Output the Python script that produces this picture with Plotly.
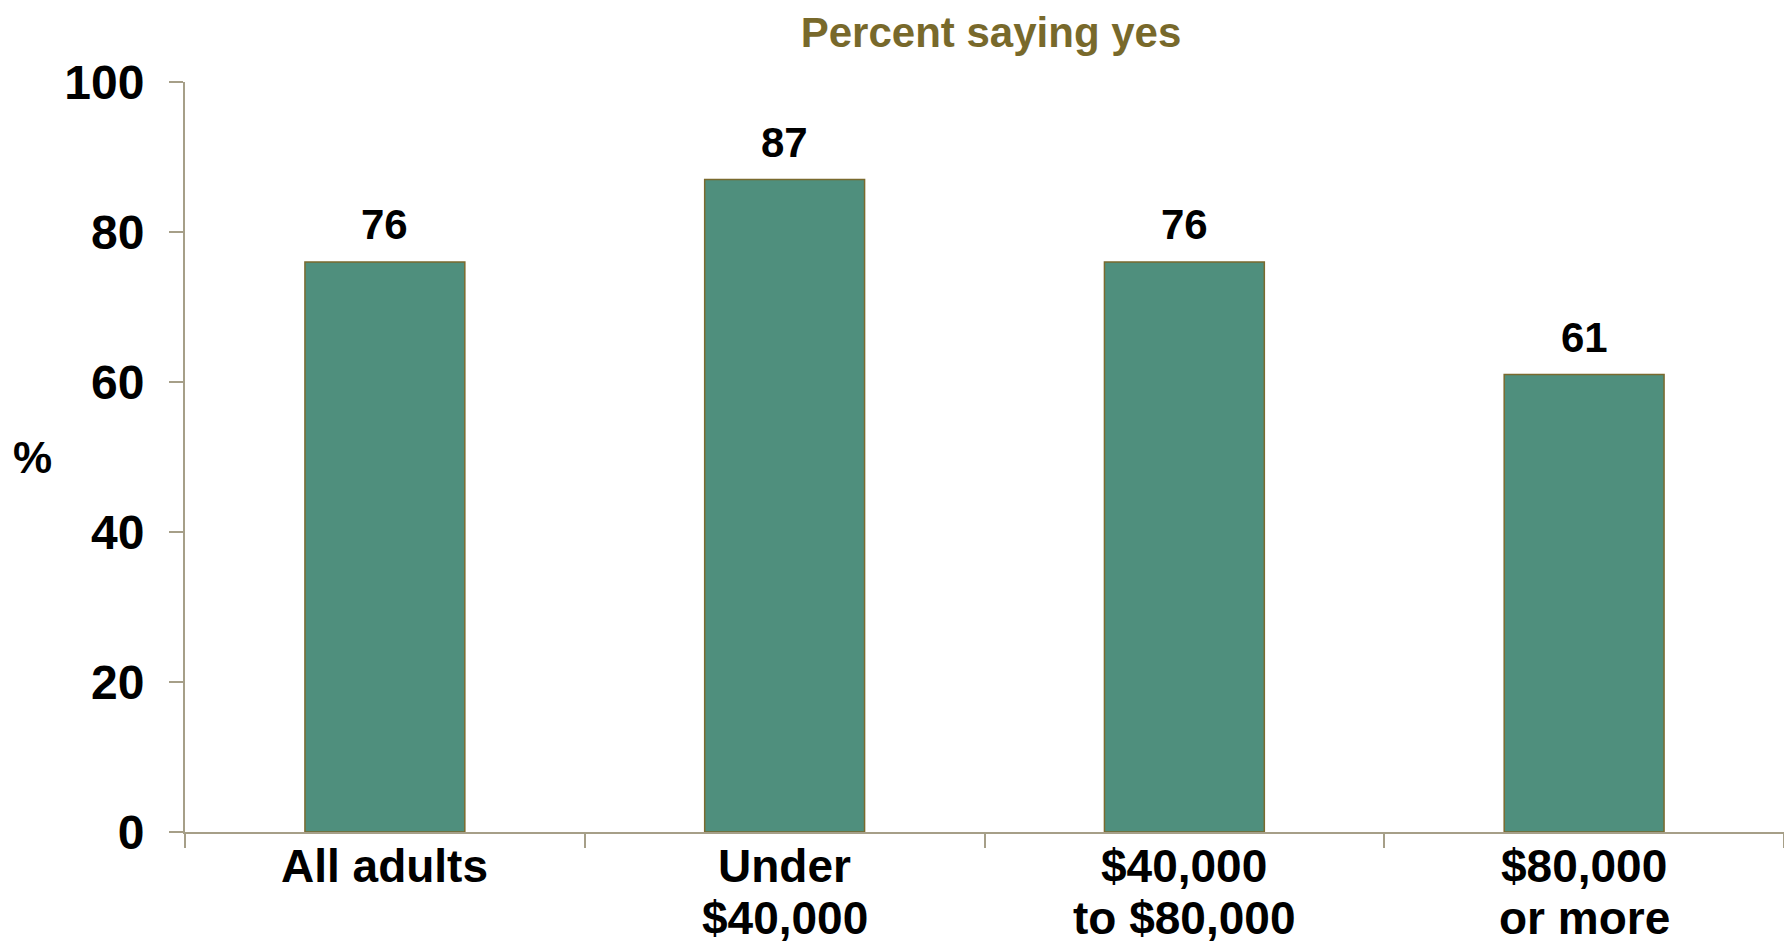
import plotly.graph_objects as go

categories = ["All adults", "Under<br>$40,000", "$40,000<br>to $80,000", "$80,000<br>or more"]
values = [76, 87, 76, 61]
y_ticks = [0, 20, 40, 60, 80, 100]
title_text = "Percent saying yes"
y_label = "%"

BAR = "#4F8F7D"
EDGE = "#7A6A2E"
AXIS = "#A69F88"
FONT = "Liberation Sans, Arial, sans-serif"

W, H = 1776, 936

fig = go.Figure()
fig.add_trace(go.Bar(
    x=categories, y=values, width=0.4,
    marker=dict(color=BAR, line=dict(color=EDGE, width=1.5)),
    hoverinfo="skip",
))
for c, v in zip(categories, values):
    fig.add_annotation(x=c, y=v, text=f"<b>{v}</b>", showarrow=False,
                       yanchor="bottom", yshift=12,
                       font=dict(family=FONT, size=42, color="black"))

# category labels, line by line
for c in categories:
    for i, line in enumerate(c.split("<br>")):
        fig.add_annotation(x=c, xref="x", yref="paper", y=0, text=f"<b>{line}</b>",
                           showarrow=False, xanchor="center", yanchor="middle",
                           borderpad=0, yshift=-(34 + 52 * i),
                           font=dict(family=FONT, size=46, color="black"))

fig.add_annotation(xref="paper", yref="paper", x=-0.0956, y=0.5, text=f"<b>{y_label}</b>",
                   showarrow=False, xanchor="center", yanchor="middle",
                   font=dict(family=FONT, size=44, color="black"))

fig.update_layout(
    width=W, height=H,
    margin=dict(l=177, r=0, t=74, b=112),
    plot_bgcolor="white", paper_bgcolor="white",
    showlegend=False,
    title=dict(text=f"<b>{title_text}</b>", x=0.5535, xanchor="center", y=0.9744, yanchor="middle",
               font=dict(family=FONT, size=42, color="#78692B")),
)
fig.update_yaxes(range=[0, 100], tickvals=y_ticks, showgrid=False, zeroline=False,
                 showline=True, linecolor=AXIS, linewidth=2,
                 ticks="outside", ticklen=14, tickcolor=AXIS, tickwidth=2,
                 ticklabelstandoff=15,
                 tickfont=dict(family=FONT, size=48, color="black", weight="bold"))
fig.update_xaxes(showgrid=False, showline=True, linecolor=AXIS, linewidth=2,
                 ticks="outside", ticklen=14, tickcolor=AXIS, tickwidth=2,
                 tickson="boundaries", showticklabels=False)

fig.write_html("out.html")
